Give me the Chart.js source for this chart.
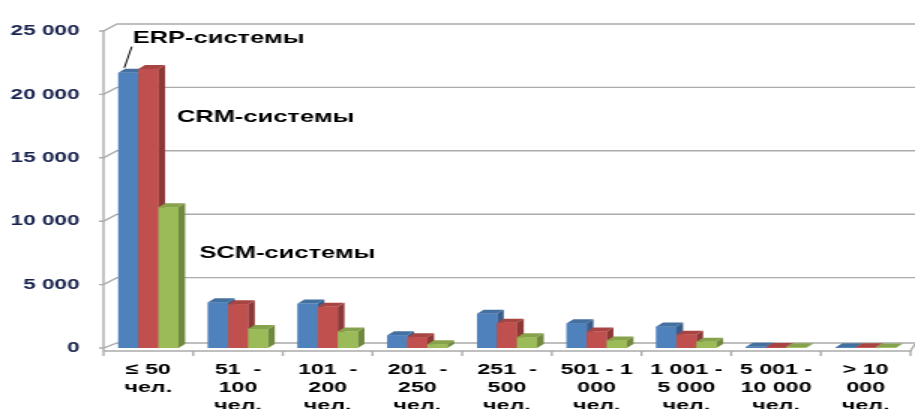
<!DOCTYPE html>
<html><head><meta charset="utf-8">
<script src="https://cdn.jsdelivr.net/npm/chart.js@4/dist/chart.umd.min.js"></script>
<style>
html,body{margin:0;padding:0;background:#fff;overflow:hidden;width:915px;height:409px}
#wrap{width:610px;height:409px;transform:scaleX(1.5);transform-origin:0 0}
canvas{display:block}
</style></head><body>
<div id="wrap"><canvas id="c" width="610" height="409"></canvas></div>
<script>
// ---- data ----
const categories = [["≤ 50","чел."],["51  -","100","чел."],["101  -","200","чел."],["201  -","250","чел."],["251  -","500","чел."],["501 - 1","000","чел."],["1 001 -","5 000","чел."],["5 001 -","10 000","чел."],["> 10","000","чел."]];
const seriesNames = ["ERP-системы","CRM-системы","SCM-системы"];
const erp = [21700,3600,3500,1000,2700,1950,1700,100,60];
const crm = [22000,3450,3250,850,2000,1300,1050,80,50];
const scm = [11100,1500,1300,300,850,600,500,50,40];
const yTicks = [0,5000,10000,15000,20000,25000];

// ---- styles ----
const colors = [
  {front:'#4F81BD', side:'#385D8A', top:'#44709F'},
  {front:'#C0504D', side:'#8C3836', top:'#A84441'},
  {front:'#9BBB59', side:'#71893F', top:'#86A24B'}
];
const depth = {wx:9, wy:7, bx:4.5, by:4};
const fmt = v => String(v).replace(/\B(?=(\d{3})+(?!\d))/g,' ');

const wallsPlugin = {
  id:'walls',
  beforeDatasetsDraw(chart){
    const {ctx, chartArea:a, scales:{x,y}} = chart;
    const right = chart.width;
    const y0 = y.getPixelForValue(0);
    ctx.save();
    ctx.strokeStyle='#ABABAB'; ctx.lineWidth=1.4;
    yTicks.forEach(v=>{
      if(v===0) return;
      const py = y.getPixelForValue(v);
      ctx.beginPath();
      ctx.moveTo(a.left-3, py); ctx.lineTo(a.left, py);
      ctx.lineTo(a.left+depth.wx, py-depth.wy); ctx.lineTo(right, py-depth.wy);
      ctx.stroke();
    });
    ctx.beginPath();
    ctx.moveTo(a.left-3, y0); ctx.lineTo(a.left, y0);
    ctx.lineTo(a.left+depth.wx, y0-depth.wy+2); ctx.lineTo(right, y0-depth.wy+2);
    ctx.stroke();
    ctx.beginPath();
    ctx.moveTo(a.left, y.getPixelForValue(25000)); ctx.lineTo(a.left, y0+3);
    ctx.stroke();
    ctx.beginPath();
    ctx.moveTo(a.left, y0+3); ctx.lineTo(a.right, y0+3); ctx.lineTo(right, y0+3-depth.wy);
    ctx.stroke();
    const n = categories.length;
    for(let i=0;i<=n;i++){
      const px = a.left + i*(a.width/n);
      ctx.beginPath(); ctx.moveTo(px, y0+3); ctx.lineTo(px, y0+8); ctx.stroke();
    }
    ctx.restore();
  }
};

const bars3d = {
  id:'bars3d',
  afterDatasetsDraw(chart){
    const ctx = chart.ctx;
    ctx.save();
    chart.data.datasets.forEach((ds,i)=>{
      const meta = chart.getDatasetMeta(i);
      const c = colors[i];
      meta.data.forEach(el=>{
        const l = el.x - el.width/2, r = el.x + el.width/2, t = el.y, b = el.base;
        ctx.fillStyle = c.side;
        ctx.beginPath();
        ctx.moveTo(r, t); ctx.lineTo(r+depth.bx, t-depth.by);
        ctx.lineTo(r+depth.bx, b-depth.by); ctx.lineTo(r, b); ctx.closePath(); ctx.fill();
        ctx.fillStyle = c.top;
        ctx.beginPath();
        ctx.moveTo(l, t); ctx.lineTo(l+depth.bx, t-depth.by);
        ctx.lineTo(r+depth.bx, t-depth.by); ctx.lineTo(r, t); ctx.closePath(); ctx.fill();
        ctx.fillStyle = c.front;
        ctx.fillRect(l, t, r-l, b-t);
      });
    });
    ctx.restore();
  }
};

const labelsPlugin = {
  id:'seriesLabels',
  afterDraw(chart){
    const {ctx, scales:{x,y}} = chart;
    const x0 = x.getPixelForValue(0);
    const erpBar = chart.getDatasetMeta(0).data[0];
    ctx.save();
    ctx.fillStyle='#000';
    ctx.font='bold 17px "Liberation Sans", Arial, sans-serif';
    ctx.textBaseline='middle';
    ctx.textAlign='left';
    ctx.fillText(seriesNames[0], x0-10.5, y.getPixelForValue(24400));
    ctx.fillText(seriesNames[1], x0+19, y.getPixelForValue(18200));
    ctx.fillText(seriesNames[2], x0+34, y.getPixelForValue(7500));
    ctx.strokeStyle='#000'; ctx.lineWidth=1;
    ctx.beginPath();
    ctx.moveTo(erpBar.x - erpBar.width/2 + 4, erpBar.y - 5);
    ctx.lineTo(erpBar.x - erpBar.width/2 + 9, y.getPixelForValue(24400)+8);
    ctx.stroke();
    ctx.restore();
  }
};

new Chart(document.getElementById('c'), {
  type:'bar',
  data:{
    labels: categories,
    datasets:[
      {label:seriesNames[0], data:erp, backgroundColor:colors[0].front},
      {label:seriesNames[1], data:crm, backgroundColor:colors[1].front},
      {label:seriesNames[2], data:scm, backgroundColor:colors[2].front}
    ]
  },
  options:{
    responsive:false,
    animation:false,
    devicePixelRatio:1,
    layout:{padding:{top:31, right:3, left:0, bottom:0}},
    plugins:{legend:{display:false}, tooltip:{enabled:false}},
    datasets:{bar:{categoryPercentage:0.67, barPercentage:1.0}},
    scales:{
      x:{
        grid:{display:false, drawTicks:false},
        border:{display:false},
        ticks:{autoSkip:false, maxRotation:0, padding:13, color:'#000',
          font:{family:'"Liberation Sans", Arial, sans-serif', size:15.5, weight:'bold', lineHeight:1.16}},
        afterFit(s){ s.height = 61; }
      },
      y:{
        min:0, max:25000,
        grid:{display:false, drawTicks:false},
        border:{display:false},
        afterBuildTicks(s){ s.ticks = yTicks.map(v=>({value:v})); },
        ticks:{padding:16, color:'#17224D', callback:v=>fmt(v),
          font:{family:'"Liberation Sans", Arial, sans-serif', size:15, weight:'bold'}},
        afterFit(s){ s.width = 69; }
      }
    }
  },
  plugins:[wallsPlugin, bars3d, labelsPlugin]
});
</script>
</body></html>
